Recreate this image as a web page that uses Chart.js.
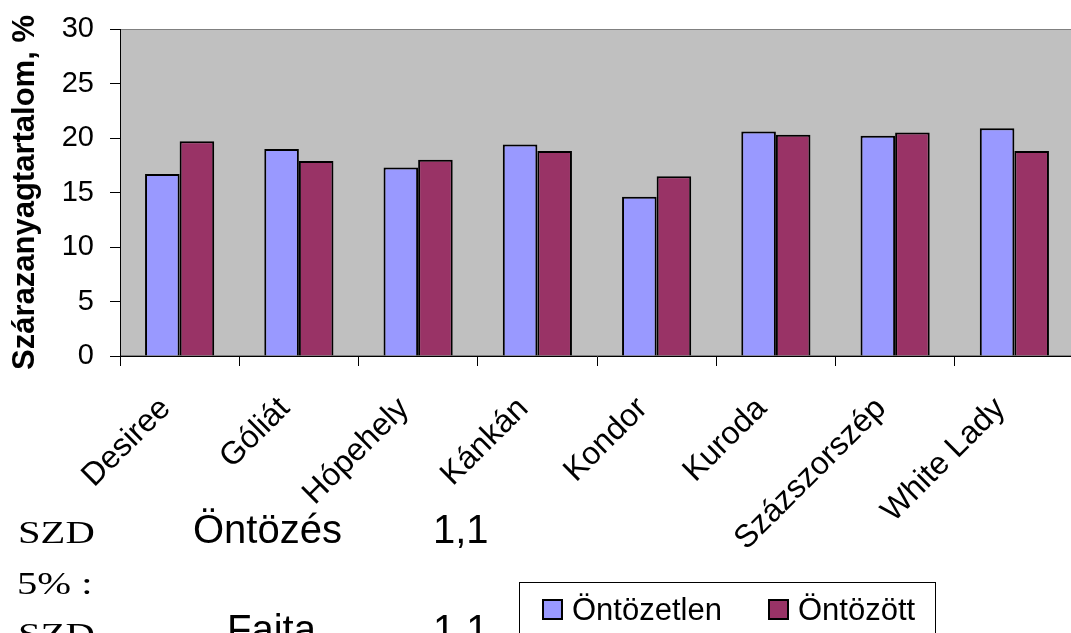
<!DOCTYPE html>
<html>
<head>
<meta charset="utf-8">
<script src="https://cdn.jsdelivr.net/npm/chart.js@4.4.1/dist/chart.umd.min.js"></script>
<style>
  body { margin: 0; width: 1071px; height: 633px; overflow: hidden; background: #fff; position: relative;
         font-family: "Liberation Sans", Arial, sans-serif; color: #000; }
  #wrap { position: absolute; left: 0; top: 0; width: 1080px; height: 633px; }
  .serif { position: absolute; font-family: "Liberation Serif", "Times New Roman", serif; font-size: 31px;
           line-height: 31px; white-space: pre; transform: scaleX(1.31); transform-origin: left top; }
  .sans { position: absolute; font-size: 40px; line-height: 40px; white-space: pre; }
  #legend { position: absolute; left: 519px; top: 582px; width: 417px; height: 70px; border: 1px solid #000;
            box-sizing: border-box; background: #fff; }
  .item { position: absolute; top: 11px; font-size: 31px; line-height: 31px; white-space: pre; }
  .item i { position: absolute; top: 5px; width: 21px; height: 21px; border: 2px solid #000; box-sizing: border-box; }
  .item span { position: absolute; left: 30px; top: 0; }
</style>
</head>
<body>
<div id="wrap"><canvas id="chart" width="1080" height="633"></canvas></div>

<div class="serif" style="left:18px; top:517px">SZD</div>
<div class="serif" style="left:17px; top:568px">5% :</div>
<div class="serif" style="left:18px; top:619px">SZD</div>
<div class="sans" style="left:193px; top:509px">Öntözés</div>
<div class="sans" style="left:433px; top:509px">1,1</div>
<div class="sans" style="left:227px; top:609px">Fajta</div>
<div class="sans" style="left:433px; top:609px">1,1</div>

<div id="legend"></div>

<script>
const fajtak = ['Desiree', 'Góliát', 'Hópehely', 'Kánkán', 'Kondor', 'Kuroda', 'Százszorszép', 'White Lady'];
const ontozetlen = [16.7, 19.0, 17.3, 19.4, 14.6, 20.6, 20.2, 20.9];
const ontozott = [19.7, 17.9, 18.0, 18.8, 16.5, 20.3, 20.5, 18.8];
const sorozatNevek = ['Öntözetlen', 'Öntözött'];
const yTicks = [0, 5, 10, 15, 20, 25, 30];

Chart.defaults.font.family = "'Liberation Sans', Arial, sans-serif";
Chart.defaults.color = '#000';

// grey plot area with a thin frame, like the spreadsheet default
const plotBg = {
  id: 'plotBg',
  beforeDraw(chart) {
    const { ctx, chartArea: a } = chart;
    ctx.save();
    ctx.fillStyle = '#c0c0c0';
    ctx.fillRect(a.left, a.top, a.right - a.left, a.bottom - a.top);
    ctx.strokeStyle = '#808080';
    ctx.lineWidth = 1;
    ctx.strokeRect(a.left + 0.5, a.top + 0.5, a.right - a.left - 1, a.bottom - a.top - 1);
    ctx.restore();
  }
};

const chart = new Chart(document.getElementById('chart'), {
  type: 'bar',
  data: {
    labels: fajtak,
    datasets: [
      { label: sorozatNevek[0], data: ontozetlen, backgroundColor: '#9999ff', borderColor: '#000', borderWidth: 2 },
      { label: sorozatNevek[1], data: ontozott, backgroundColor: '#993366', borderColor: '#000', borderWidth: 2 }
    ]
  },
  options: {
    responsive: false,
    animation: false,
    devicePixelRatio: 1,
    layout: { padding: { left: 0, top: 29, right: 6, bottom: 0 } },
    datasets: { bar: { barPercentage: 1.0, categoryPercentage: 0.58 } },
    plugins: { legend: { display: false }, tooltip: { enabled: false } },
    scales: {
      x: {
        afterFit: (scale) => { scale.height = 277; },
        grid: { offset: true, drawOnChartArea: false, drawTicks: true, tickLength: 10, color: '#000' },
        border: { color: '#000', width: 1 },
        ticks: { font: { size: 32 }, maxRotation: 45, minRotation: 45, padding: 24, labelOffset: -14 }
      },
      y: {
        min: 0,
        max: 30,
        afterFit: (scale) => {
          scale.width = 120;
          // label padding should not push the plot top down
          scale.paddingTop = 17;
          scale.paddingBottom = 17;
        },
        afterBuildTicks: (scale) => { scale.ticks = yTicks.map(v => ({ value: v })); },
        grid: { drawOnChartArea: false, drawTicks: true, tickLength: 10, color: '#000' },
        border: { color: '#000', width: 1 },
        ticks: { font: { size: 29 }, padding: 16 },
        title: {
          display: true,
          text: 'Szárazanyagtartalom, %',
          font: { size: 31, weight: 'bold' },
          padding: { top: 7, bottom: 0 }
        }
      }
    }
  },
  plugins: [plotBg]
});

// legend box built from the datasets
const legend = document.getElementById('legend');
const itemLeft = [22, 248];
chart.data.datasets.forEach((ds, i) => {
  const item = document.createElement('div');
  item.className = 'item';
  item.style.left = itemLeft[i] + 'px';
  item.innerHTML = '<i style="background:' + ds.backgroundColor + '"></i><span>' + ds.label + '</span>';
  legend.appendChild(item);
});
</script>
</body>
</html>
